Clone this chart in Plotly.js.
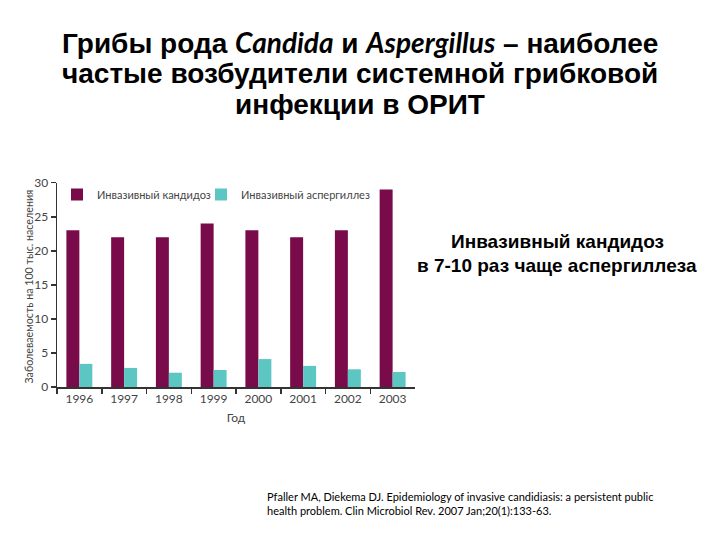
<!DOCTYPE html>
<html><head><meta charset="utf-8">
<script src="https://cdn.plot.ly/plotly-3.0.1.min.js"></script>
<style>body{margin:0;background:#fff}#c{width:720px;height:540px}</style>
</head><body><div id="c"></div>
<script>
const years = ['1996','1997','1998','1999','2000','2001','2002','2003'];
const candida = [23, 22, 22, 24, 23, 22, 23, 29];
const aspergillus = [3.4, 2.8, 2.1, 2.5, 4.1, 3.1, 2.6, 2.2];
const seriesNames = ['Инвазивный кандидоз', 'Инвазивный аспергиллез'];
const yTicks = [0, 5, 10, 15, 20, 25, 30];
const yTitle = 'Заболеваемость на 100 тыс. населения';
const xTitle = 'Год';

const W = 720, H = 540;
const tickFont = {family: 'Lato, Open Sans, sans-serif', size: 12, color: '#444'};
const titleFont = {family: 'Liberation Sans, Arial, sans-serif', size: 28, color: '#000'};
const noteFont = {family: 'Liberation Sans, Arial, sans-serif', size: 19, color: '#000'};
const legFont = {family: 'Lato, Open Sans, sans-serif', size: 11, color: '#444'};

const data = [
  {type: 'bar', x: years, y: candida, name: seriesNames[0], marker: {color: '#7A0B4A'}, legend: 'legend'},
  {type: 'bar', x: years, y: aspergillus, name: seriesNames[1], marker: {color: '#5CC6C3'}, legend: 'legend2'}
];

const ital = s => '<b><i><span style="font-family:Lato">' + s + '</span></i></b>';

const layout = {
  width: W, height: H,
  margin: {l: 0, r: 0, t: 0, b: 0},
  paper_bgcolor: '#fff', plot_bgcolor: '#fff',
  barmode: 'group', bargap: 0.42, bargroupgap: 0,
  showlegend: true,
  legend: {orientation: 'h', x: 57/W, y: 1 - 180/H, xanchor: 'left', yanchor: 'top',
    font: legFont, bgcolor: 'rgba(0,0,0,0)', itemwidth: 30},
  legend2: {orientation: 'h', x: 201/W, y: 1 - 180/H, xanchor: 'left', yanchor: 'top',
    font: legFont, bgcolor: 'rgba(0,0,0,0)', itemwidth: 30},
  xaxis: {domain: [57/W, 415/W], type: 'category', tickson: 'boundaries',
    ticks: 'outside', ticklen: 5, tickwidth: 1.5, tickcolor: '#333',
    showline: true, linecolor: '#333', linewidth: 1.5, showgrid: false, zeroline: false,
    tickfont: tickFont, automargin: false,
    title: {text: xTitle, font: tickFont, standoff: 8}},
  yaxis: {domain: [1 - 387/H, 1 - 182.7/H], range: [0, 30], tickvals: yTicks,
    ticks: 'outside', ticklen: 5, tickwidth: 1.5, tickcolor: '#333',
    showline: true, linecolor: '#333', linewidth: 1.5, showgrid: false, zeroline: false,
    tickfont: tickFont, automargin: false},
  annotations: [
    {xref: 'paper', yref: 'paper', x: 28/W, y: 1 - 286.5/H, xanchor: 'center', yanchor: 'middle', showarrow: false,
     textangle: -90, text: yTitle, font: {family: 'Lato, Open Sans, sans-serif', size: 10.7, color: '#444'}},
    {xref: 'paper', yref: 'paper', x: 0.5, y: 1 - 42/H, xanchor: 'center', yanchor: 'middle', showarrow: false,
     text: '<b>Грибы рода </b>' + ital('Candida') + '<b> и </b>' + ital('Aspergillus') + '<b> – наиболее</b>',
     font: titleFont},
    {xref: 'paper', yref: 'paper', x: 0.5, y: 1 - 73/H, xanchor: 'center', yanchor: 'middle', showarrow: false,
     text: '<b>частые возбудители системной грибковой</b>', font: titleFont},
    {xref: 'paper', yref: 'paper', x: 0.5, y: 1 - 104/H, xanchor: 'center', yanchor: 'middle', showarrow: false,
     text: '<b>инфекции в ОРИТ</b>', font: titleFont},
    {xref: 'paper', yref: 'paper', x: 557/W, y: 1 - 241/H, xanchor: 'center', yanchor: 'middle', showarrow: false,
     text: '<b>Инвазивный кандидоз</b>', font: noteFont},
    {xref: 'paper', yref: 'paper', x: 557/W, y: 1 - 265/H, xanchor: 'center', yanchor: 'middle', showarrow: false,
     text: '<b>в 7-10 раз чаще аспергиллеза</b>', font: noteFont},
    {xref: 'paper', yref: 'paper', x: 265/W, y: 1 - 496/H, xanchor: 'left', yanchor: 'middle', showarrow: false,
     text: 'Pfaller MA, Diekema DJ. Epidemiology of invasive candidiasis: a persistent public',
     font: {family: 'Lato, sans-serif', size: 11, color: '#000'}},
    {xref: 'paper', yref: 'paper', x: 265/W, y: 1 - 510/H, xanchor: 'left', yanchor: 'middle', showarrow: false,
     text: 'health problem. Clin Microbiol Rev. 2007 Jan;20(1):133-63.',
     font: {family: 'Lato, sans-serif', size: 11, color: '#000'}}
  ]
};
Plotly.newPlot('c', data, layout, {displayModeBar: false, staticPlot: true});
</script></body></html>
